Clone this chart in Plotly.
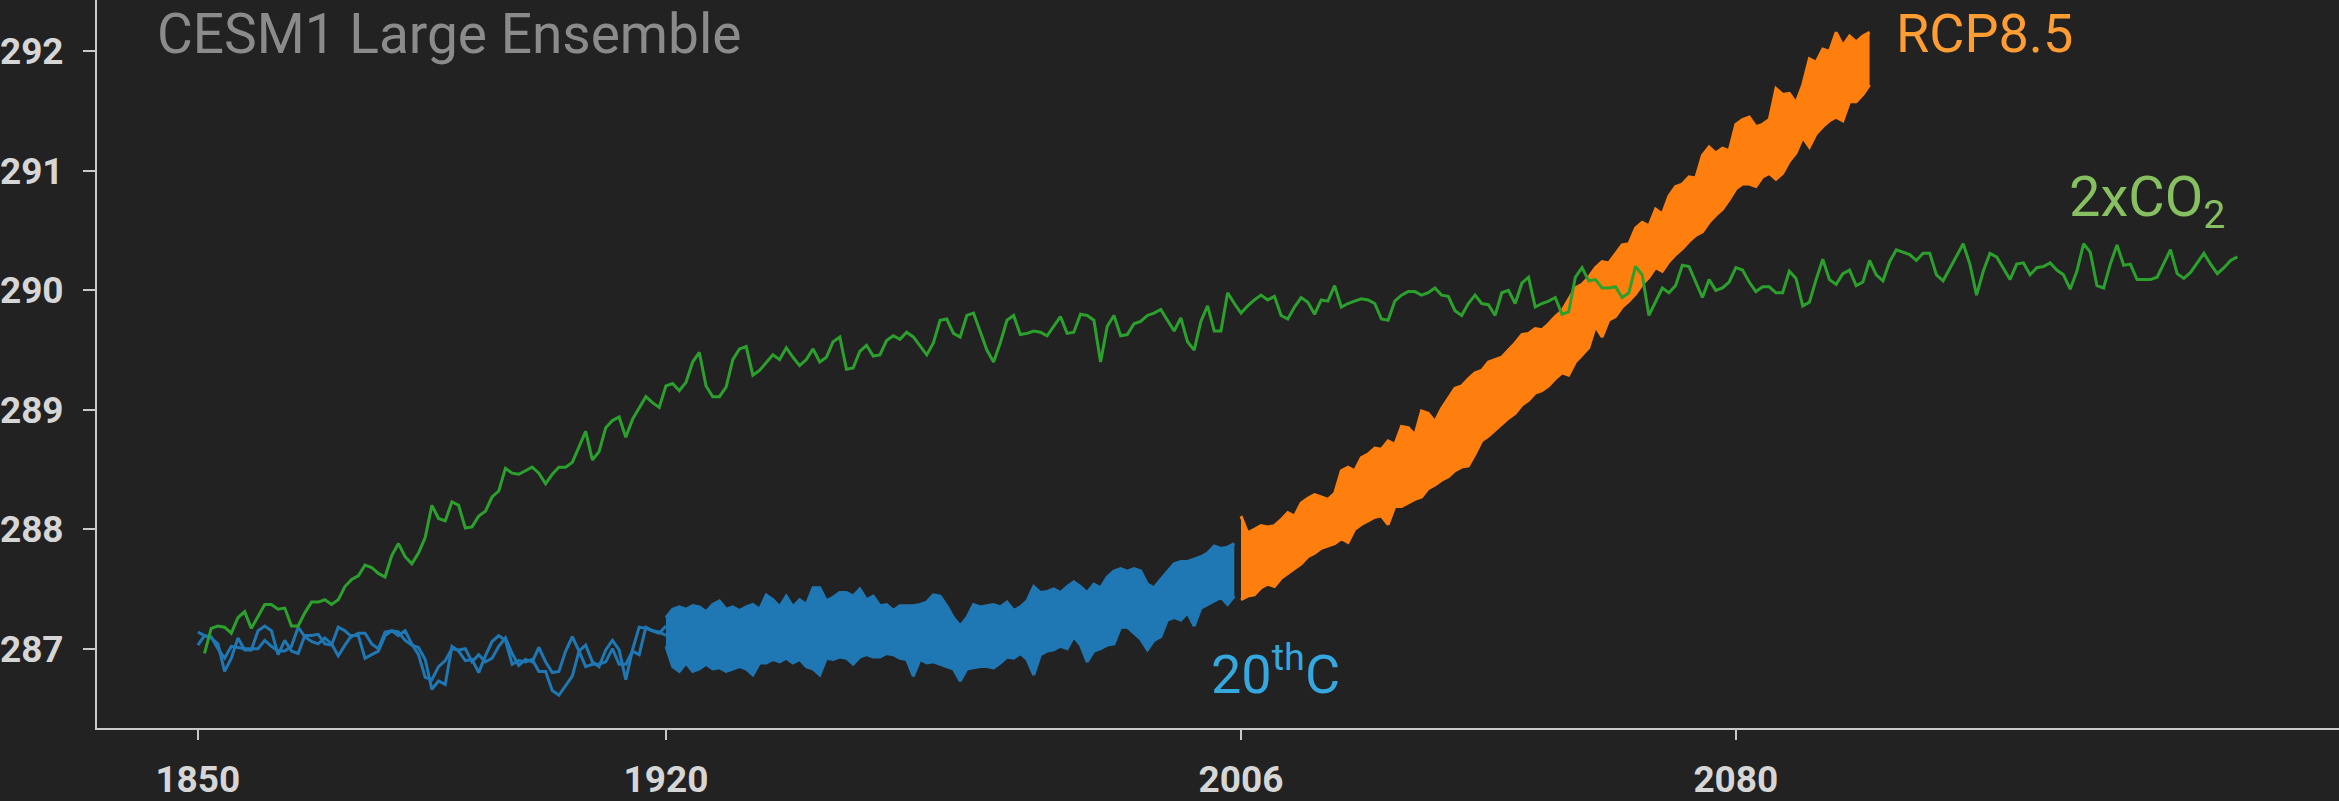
import plotly.graph_objects as go

# ---------------- data ----------------
# 2xCO2 run, one value per year starting 1851
green_start = 1851
co2x2_temp = [
    286.96, 287.17, 287.19, 287.18, 287.13, 287.26, 287.31, 287.17, 287.27, 287.37,
    287.37, 287.33, 287.34, 287.19, 287.19, 287.30, 287.39, 287.39, 287.41, 287.37,
    287.41, 287.52, 287.58, 287.61, 287.70, 287.68, 287.63, 287.60, 287.78, 287.88,
    287.77, 287.71, 287.80, 287.93, 288.20, 288.09, 288.07, 288.23, 288.20, 288.01,
    288.02, 288.11, 288.15, 288.27, 288.32, 288.51, 288.47, 288.46, 288.49, 288.52,
    288.47, 288.38, 288.46, 288.52, 288.52, 288.56, 288.69, 288.82, 288.58, 288.65,
    288.85, 288.91, 288.94, 288.77, 288.92, 289.01, 289.11, 289.06, 289.02, 289.20,
    289.22, 289.16, 289.23, 289.40, 289.48,
    289.20, 289.11, 289.11, 289.19, 289.42, 289.51, 289.53, 289.29, 289.33, 289.40,
    289.46, 289.42, 289.52, 289.44, 289.37, 289.42, 289.51, 289.40, 289.44, 289.57,
    289.61, 289.34, 289.35, 289.49, 289.54, 289.45, 289.46, 289.58, 289.62, 289.59,
    289.65, 289.61, 289.54, 289.46, 289.56, 289.75, 289.76, 289.64, 289.61, 289.79,
    289.81, 289.66, 289.50, 289.40, 289.56, 289.75, 289.79, 289.63, 289.64, 289.66,
    289.65, 289.62, 289.70, 289.78, 289.64, 289.65, 289.80, 289.79, 289.75, 289.40,
    289.70, 289.79, 289.62, 289.63, 289.72, 289.74, 289.79, 289.81, 289.84,
    289.75, 289.66, 289.77, 289.57, 289.50, 289.74, 289.87, 289.66, 289.66, 289.98,
    289.89, 289.81, 289.87, 289.92, 289.96, 289.92, 289.95, 289.79, 289.76, 289.86,
    289.94, 289.90, 289.80, 289.92, 289.91, 290.04, 289.86, 289.89, 289.91, 289.93,
    289.92, 289.89, 289.76, 289.75, 289.91, 289.96, 289.99, 289.99, 289.96, 289.98,
    290.02, 289.96, 289.95, 289.83, 289.79, 289.89, 289.96, 289.89, 289.88, 289.79,
    289.98, 290.00, 289.89, 290.06, 290.11, 289.86, 289.89, 289.91, 289.94, 289.80,
    289.82, 290.11, 290.19, 290.08, 290.09, 290.02, 290.02, 290.03, 289.94, 289.98,
    290.20,
    290.13, 289.79, 289.91, 290.02, 289.98, 290.04, 290.21, 290.20, 290.07, 289.94,
    290.09, 290.00, 290.02, 290.07, 290.19, 290.17, 290.07, 289.99, 290.03, 290.03,
    289.98, 289.98, 290.16, 290.10, 289.87, 289.90, 290.09, 290.26, 290.09, 290.05,
    290.14, 290.17, 290.04, 290.07, 290.25, 290.13, 290.08, 290.24, 290.34, 290.32,
    290.30, 290.25, 290.31, 290.31, 290.13, 290.08, 290.18, 290.28, 290.39, 290.22,
    289.96, 290.16, 290.31, 290.28, 290.19, 290.09, 290.22, 290.23, 290.13, 290.19,
    290.20, 290.23, 290.17, 290.13, 290.01, 290.16,
    290.39, 290.32, 290.04, 290.02, 290.22, 290.38, 290.21, 290.22, 290.09, 290.09,
    290.09, 290.11, 290.22, 290.34, 290.14, 290.10, 290.15, 290.23, 290.31, 290.22,
    290.14, 290.19, 290.25, 290.28,
]

# the two 20thC members that start in 1850 (1850-1920)
early_start = 1850
member_a = [
    287.14, 287.11, 287.09, 287.04, 286.81, 286.92, 287.09, 286.99, 286.99, 287.15,
    287.19, 287.15, 286.95, 287.07, 286.98, 286.96, 287.11, 287.11, 287.12, 287.04,
    287.03, 287.18, 287.15, 287.10, 287.13, 287.13, 287.04, 287.00, 287.14, 287.15,
    287.14, 287.07, 287.03, 287.01, 286.91, 286.66, 286.73, 286.70, 287.02, 286.98,
    286.90, 286.91, 286.80, 286.94, 287.06, 287.11, 287.07, 286.87, 286.90, 286.89,
    286.91, 286.81, 286.81, 286.65, 286.61, 286.69, 286.77, 286.98, 286.85, 286.87,
    286.87, 286.89, 287.00, 286.87, 286.87, 286.98, 286.95, 287.18, 287.15, 287.14,
    287.11,
]
member_b = [
    287.03, 287.11, 287.10, 287.00, 286.92, 287.02, 287.01, 287.00, 287.00, 287.00,
    287.07, 287.02, 286.98, 286.98, 287.02, 287.18, 287.10, 287.06, 287.04, 287.09,
    287.04, 286.94, 287.03, 287.11, 287.11, 286.92, 286.95, 286.98, 287.11, 287.15,
    287.11, 287.15, 287.04, 286.95, 286.76, 286.74, 286.85, 286.90, 287.00, 286.99,
    287.00, 286.89, 286.95, 286.89, 286.92, 287.02, 287.09, 286.96, 286.86, 286.91,
    286.89, 287.01, 286.89, 286.80, 286.81, 286.98, 287.10, 286.98, 287.03, 286.89,
    286.85, 286.99, 287.07, 286.99, 286.74, 286.99, 287.18, 287.17, 287.15, 287.13,
    287.19,
]

# 20thC ensemble spread, 1920-2005 (upper / lower edge of all members)
hist_start = 1920
hist_upper = [
    287.26, 287.33, 287.35, 287.33, 287.36, 287.35, 287.31, 287.37, 287.40, 287.33,
    287.35, 287.32, 287.35, 287.37, 287.33, 287.45, 287.41, 287.35, 287.44, 287.35,
    287.41, 287.37, 287.51, 287.51, 287.40, 287.43, 287.47, 287.47, 287.44, 287.50,
    287.41, 287.44, 287.36, 287.37, 287.32, 287.36, 287.36, 287.36, 287.37, 287.39,
    287.45, 287.44, 287.36, 287.26, 287.19, 287.26, 287.37, 287.35, 287.36, 287.37,
    287.35, 287.39, 287.32, 287.35, 287.40, 287.52, 287.47, 287.48, 287.50, 287.47,
    287.52, 287.56, 287.52, 287.47, 287.54, 287.51, 287.60, 287.65, 287.67, 287.65,
    287.67, 287.65, 287.54, 287.51, 287.58, 287.65, 287.71, 287.73, 287.73, 287.75,
    287.77, 287.80, 287.86, 287.84, 287.85, 287.88,
]
hist_lower = [
    287.02, 286.85, 286.81, 286.88, 286.81, 286.83, 286.87, 286.83, 286.84, 286.81,
    286.83, 286.85, 286.83, 286.78, 286.88, 286.88, 286.91, 286.89, 286.92, 286.88,
    286.91, 286.85, 286.83, 286.78, 286.92, 286.91, 286.93, 286.92, 286.87, 286.93,
    286.95, 286.93, 286.93, 286.96, 286.95, 286.92, 286.91, 286.77, 286.91, 286.88,
    286.89, 286.87, 286.85, 286.83, 286.73, 286.83, 286.84, 286.85, 286.85, 286.84,
    286.88, 286.93, 286.92, 286.96, 286.91, 286.78, 286.95, 286.98, 286.99, 287.02,
    287.00, 287.10, 287.03, 286.89, 286.98, 287.00, 287.03, 287.04, 287.18, 287.18,
    287.13, 287.08, 286.99, 287.07, 287.10, 287.24, 287.26, 287.24, 287.30, 287.19,
    287.34, 287.37, 287.40, 287.43, 287.37, 287.44,
]

# RCP8.5 ensemble spread, 2006-2100
rcp_start = 2006
rcp_upper = [
    288.11, 287.97, 288.00, 288.03, 288.02, 288.03, 288.08, 288.14, 288.11, 288.22,
    288.26, 288.29, 288.27, 288.25, 288.30, 288.49, 288.52, 288.49, 288.60, 288.63,
    288.68, 288.67, 288.74, 288.71, 288.86, 288.85, 288.79, 288.99, 288.97, 288.90,
    289.01, 289.09, 289.18, 289.20, 289.26, 289.31, 289.33, 289.40, 289.42, 289.44,
    289.50, 289.56, 289.63, 289.64, 289.68, 289.67, 289.72, 289.78,
    289.83, 289.92, 290.02, 290.05, 290.11, 290.19, 290.24, 290.23, 290.30, 290.38,
    290.39, 290.52, 290.57, 290.54, 290.68, 290.64, 290.79, 290.87, 290.89, 290.95,
    290.94, 291.13, 291.20, 291.15, 291.19, 291.17, 291.39, 291.43, 291.45, 291.37,
    291.39, 291.43, 291.69, 291.64, 291.65, 291.57, 291.72, 291.94, 291.91, 292.02,
    292.00, 292.16, 292.05, 292.13, 292.08, 292.13, 292.16,
]
rcp_lower = [
    287.41, 287.44, 287.45, 287.51, 287.54, 287.52, 287.59, 287.63, 287.67, 287.71,
    287.77, 287.80, 287.84, 287.86, 287.88, 287.92, 287.89, 288.00, 288.04, 288.07,
    288.10, 288.11, 288.04, 288.19, 288.19, 288.22, 288.25, 288.27, 288.34, 288.37,
    288.41, 288.44, 288.49, 288.52, 288.53, 288.63, 288.74, 288.78, 288.83, 288.88,
    288.93, 288.97, 289.04, 289.08, 289.14, 289.16, 289.20, 289.26, 289.31, 289.29,
    289.40, 289.46, 289.52,
    289.70, 289.61, 289.75, 289.78, 289.86, 289.91, 289.97, 290.05, 290.11, 290.19,
    290.16, 290.24, 290.30, 290.35, 290.41, 290.46, 290.49, 290.57, 290.63, 290.68,
    290.76, 290.85, 290.89, 290.89, 290.87, 290.95, 290.98, 290.93, 290.98, 291.08,
    291.15, 291.28, 291.20, 291.31, 291.37, 291.42, 291.45, 291.42, 291.58, 291.58,
    291.64, 291.72,
]

x_tick_vals = [1850, 1920, 2006, 2080]
y_tick_vals = [287, 288, 289, 290, 291, 292]

title_text = "CESM1 Large Ensemble"
label_rcp = "RCP8.5"
label_co2 = "2xCO<sub>2</sub>"
label_hist = "20<sup>th</sup>C"

# ---------------- styling ----------------
BG = "#222222"
BLUE = "#1f77b4"
ORANGE = "#ff7f0e"
GREEN = "#2ca02c"
AXIS = "#c9c9c9"
TICKFONT = dict(family="Roboto", size=37, color="#d6d6d6", weight="bold")
LABELFONT = "Roboto"

def yrs(start, n):
    return list(range(start, start + n))

fig = go.Figure()

# early 20thC members
for mem in (member_a, member_b):
    fig.add_trace(go.Scatter(x=yrs(early_start, len(mem)), y=mem, mode="lines",
                             line=dict(color=BLUE, width=3), hoverinfo="skip"))

# 20thC ensemble band
hx = yrs(hist_start, len(hist_upper))
fig.add_trace(go.Scatter(x=hx, y=hist_upper, mode="lines",
                         line=dict(color=BLUE, width=3), hoverinfo="skip"))
fig.add_trace(go.Scatter(x=hx, y=hist_lower, mode="lines", fill="tonexty",
                         fillcolor=BLUE, line=dict(color=BLUE, width=3), hoverinfo="skip"))

# RCP8.5 ensemble band
rx = yrs(rcp_start, len(rcp_upper))
fig.add_trace(go.Scatter(x=rx, y=rcp_upper, mode="lines",
                         line=dict(color=ORANGE, width=3), hoverinfo="skip"))
fig.add_trace(go.Scatter(x=rx, y=rcp_lower, mode="lines", fill="tonexty",
                         fillcolor=ORANGE, line=dict(color=ORANGE, width=3), hoverinfo="skip"))

# 2xCO2
fig.add_trace(go.Scatter(x=yrs(green_start, len(co2x2_temp)), y=co2x2_temp, mode="lines",
                         line=dict(color=GREEN, width=3), hoverinfo="skip"))

W, H = 2339, 801
ML, MB = 94, 58
PW, PH = W - ML, H - MB

def px(xp):
    return (xp - ML) / PW

def py(yp):
    return (PH - yp) / PH

annos = [
    dict(text=title_text, x=px(152), y=py(0), anchor="top", size=55, color="#8b8b8b"),
    dict(text=label_rcp, x=px(1893), y=py(0), anchor="top", size=54, color="#ff9d33"),
    dict(text=label_co2, x=px(2067), y=py(205), anchor="middle", size=56, color="#86c060"),
    dict(text=label_hist, x=px(1207), y=py(684), anchor="middle", size=54, color="#35a8e0"),
]
for a in annos:
    fig.add_annotation(text=a["text"], x=a["x"], y=a["y"], xref="paper", yref="paper",
                       xanchor="left", yanchor=a["anchor"], showarrow=False,
                       font=dict(family=LABELFONT, size=a["size"], color=a["color"]))

fig.update_layout(
    width=W, height=H,
    margin=dict(l=ML, r=0, t=0, b=MB, pad=0),
    paper_bgcolor=BG, plot_bgcolor=BG,
    showlegend=False,
    xaxis=dict(range=[1834.92, 2170.2], tickvals=x_tick_vals, ticktext=[str(v) for v in x_tick_vals],
               showgrid=False, zeroline=False, showline=True, linecolor=AXIS, linewidth=2,
               ticks="outside", ticklen=10, tickwidth=2, tickcolor=AXIS,
               tickfont=TICKFONT, ticklabelstandoff=8),
    yaxis=dict(range=[286.336, 292.431], tickvals=y_tick_vals, ticktext=[str(v) for v in y_tick_vals],
               showgrid=False, zeroline=False, showline=True, linecolor=AXIS, linewidth=2,
               ticks="outside", ticklen=12, tickwidth=2, tickcolor=AXIS,
               tickfont=TICKFONT, ticklabelstandoff=12),
)

fig.write_html("out.html", config={"displayModeBar": False},
               post_script="document.body.style.margin='0';document.body.style.background='#222222';")
